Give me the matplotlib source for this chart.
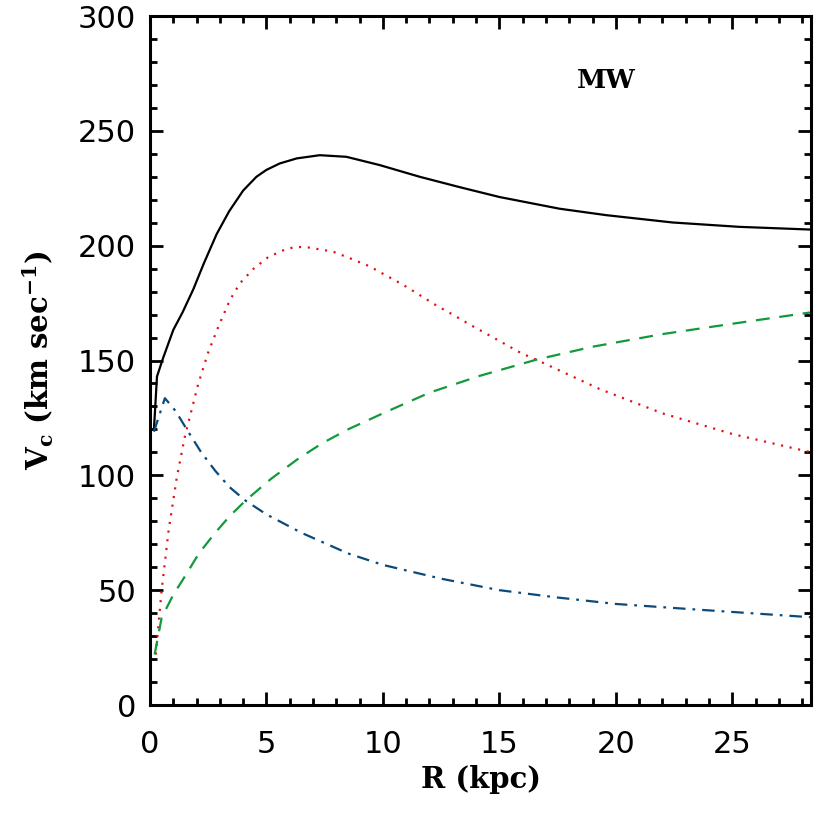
import matplotlib
matplotlib.use("Agg")
import matplotlib.pyplot as plt
from matplotlib.ticker import MultipleLocator

# rotation curve components
r_total = [0.17, 0.3, 0.56, 1.0, 1.4, 1.86, 2.3, 2.86, 3.4, 4.0, 4.57, 5.0, 5.57, 6.3, 7.29, 8.43,
           9.86, 11.58, 13.29, 15.0, 17.58, 19.58, 22.44, 25.3, 28.4]
v_total = [120, 143, 151, 163.3, 171, 181, 192, 205, 215, 224, 230, 233, 235.8, 238, 239.4, 238.7,
           235.1, 230, 225.5, 221.2, 216.1, 213.3, 210.1, 208.2, 207]

r_disk = [0.25, 0.5, 0.8, 1.15, 1.5, 2.05, 2.48, 2.93, 3.43, 3.86, 4.43, 5.07, 5.79, 6.22, 6.7, 7.86, 8.64,
          9.43, 10.14, 10.86, 11.58, 12.29, 13.0, 13.72, 14.44, 15.2, 15.9, 16.7, 19.3, 22.0, 25.0, 28.4]
v_disk = [22, 50, 76, 99, 117, 139, 153, 164.6, 176.3, 183.6, 189.8, 195, 198.3, 199.4, 199.4, 197.4, 194.3,
          191, 187, 183, 178.5, 174, 170, 165.7, 161.7, 157.4, 153.4, 149.8, 137.6, 127, 118, 110]

r_halo = [0.2, 0.5, 1.0, 1.5, 2.1, 2.8, 3.4, 4.1, 5.2, 6.4, 7.4, 8.5, 10, 12, 14.15, 16.6, 19, 22, 25, 28.4]
v_halo = [22, 38, 48, 56, 66, 75, 82, 89, 98.5, 107.5, 114, 120, 127, 136, 143.3, 150.4, 156, 161.5, 166, 171]

r_bulge = [0.17, 0.64, 1.1, 1.58, 2.2, 2.8, 3.4, 4.1, 5, 6.5, 8.5, 10, 12.5, 15, 17.5, 20, 23.7, 28.4]
v_bulge = [119, 133.6, 128, 120, 110, 102, 95, 89, 83, 75, 66, 61, 55, 50, 46.8, 44, 41.4, 38.2]

plt.rcParams["lines.scale_dashes"] = False
plt.rcParams["mathtext.fontset"] = "dejavuserif"

fig = plt.figure(figsize=(8.3, 8.3), dpi=100)
ax = fig.add_axes([0.1807, 0.1506, 0.797, 0.8301])

ax.plot(r_total, v_total, color="black", lw=1.6)
ax.plot(r_disk, v_disk, color="#e01010", lw=1.6, dashes=(1.5, 4.8))
ax.plot(r_halo, v_halo, color="#11993a", lw=1.6, dashes=(10, 7))
ax.plot(r_bulge, v_bulge, color="#0b4a7a", lw=1.6, dashes=(9, 5, 2, 5))

ax.set_xlim(0, 28.4)
ax.set_ylim(0, 300)
ax.xaxis.set_major_locator(MultipleLocator(5))
ax.xaxis.set_minor_locator(MultipleLocator(1))
ax.yaxis.set_major_locator(MultipleLocator(50))
ax.yaxis.set_minor_locator(MultipleLocator(10))

for s in ax.spines.values():
    s.set_linewidth(2.2)
ax.tick_params(which="both", direction="in", top=True, right=True, width=2)
ax.tick_params(which="major", length=9.5, labelsize=22)
ax.tick_params(axis="x", which="major", pad=18)
ax.tick_params(axis="y", which="major", pad=10)
ax.tick_params(which="minor", length=5)
for lab in ax.get_xticklabels() + ax.get_yticklabels():
    lab.set_family("DejaVu Sans")

ax.set_xlabel("R (kpc)", family="DejaVu Serif", fontsize=21, fontweight="bold", labelpad=4)
ax.set_ylabel(r"V$_\mathbf{c}$ (km sec$^{\mathbf{-1}}$)", family="DejaVu Serif",
              fontsize=21, fontweight="bold", labelpad=16)

ax.text(19.6, 272, "MW", family="DejaVu Serif", fontsize=19, fontweight="bold",
        ha="center", va="center")

fig.savefig("out.png", dpi=100)
